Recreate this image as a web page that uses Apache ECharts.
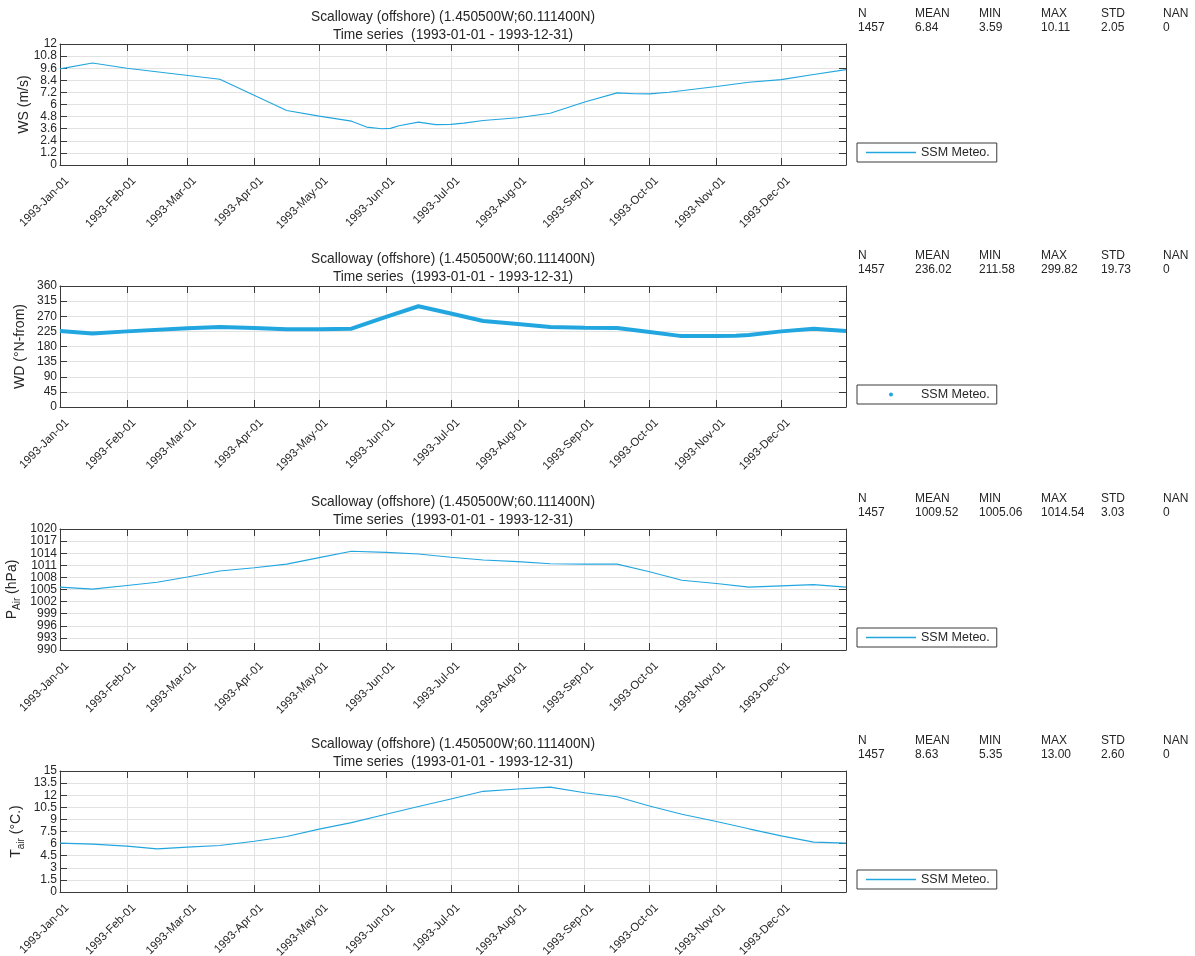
<!DOCTYPE html>
<html>
<head>
<meta charset="utf-8">
<script src="https://cdn.jsdelivr.net/npm/echarts@6/dist/echarts.min.js"></script>
<style>
  html, body { margin: 0; padding: 0; background: #ffffff; }
  #chart { width: 1195px; height: 956px; }
</style>
</head>
<body>
<div id="chart"></div>
<script>
// ---- text ----
const STATION = 'Scalloway (offshore) (1.450500W;60.111400N)';
const PERIOD = 'Time series  (1993-01-01 - 1993-12-31)';
const SERIES_NAME = 'SSM Meteo.';
const MONTHS = ['Jan', 'Feb', 'Mar', 'Apr', 'May', 'Jun', 'Jul', 'Aug', 'Sep', 'Oct', 'Nov', 'Dec'];
const STAT_HEADERS = ['N', 'MEAN', 'MIN', 'MAX', 'STD', 'NAN'];

// ---- wind speed (m/s) ----
const wsDates = ['1993-01-01', '1993-01-16', '1993-02-01', '1993-03-16', '1993-04-16', '1993-05-01',
  '1993-05-16', '1993-05-23', '1993-05-30', '1993-06-03', '1993-06-07', '1993-06-16', '1993-06-24',
  '1993-07-01', '1993-07-07', '1993-07-16', '1993-08-01', '1993-08-16', '1993-09-01', '1993-09-16',
  '1993-09-24', '1993-10-01', '1993-10-10', '1993-11-01', '1993-11-16', '1993-12-01', '1993-12-16',
  '1993-12-31'];
const wsValues = [9.53, 10.11, 9.6, 8.5, 5.4, 4.85, 4.35, 3.76, 3.59, 3.63, 3.9, 4.25, 4.0,
  4.03, 4.15, 4.42, 4.68, 5.14, 6.25, 7.15, 7.06, 7.05, 7.22, 7.78, 8.2, 8.47, 8.97, 9.46];

// ---- wind direction (deg, from N) ----
const wdDates = ['1993-01-01', '1993-01-16', '1993-02-01', '1993-03-01', '1993-03-16', '1993-04-01',
  '1993-04-16', '1993-05-01', '1993-05-16', '1993-06-01', '1993-06-16', '1993-07-01', '1993-07-16',
  '1993-08-01', '1993-08-16', '1993-09-01', '1993-09-16', '1993-10-01', '1993-10-15', '1993-11-01',
  '1993-11-10', '1993-11-16', '1993-12-01', '1993-12-16', '1993-12-31'];
const wdValues = [226, 219, 225, 234, 238, 235, 231, 231, 233, 268, 299.8, 278, 256,
  247, 238, 236, 235, 223, 211.6, 211.6, 212, 214, 225, 233, 226];

// ---- air pressure (hPa) ----
const paDates = ['1993-01-01', '1993-01-16', '1993-02-01', '1993-02-15', '1993-03-01', '1993-03-16',
  '1993-04-01', '1993-04-16', '1993-05-01', '1993-05-16', '1993-06-01', '1993-06-16', '1993-07-01',
  '1993-07-16', '1993-08-01', '1993-08-16', '1993-09-01', '1993-09-16', '1993-10-01', '1993-10-16',
  '1993-11-01', '1993-11-16', '1993-12-01', '1993-12-16', '1993-12-31'];
const paValues = [1005.6, 1005.1, 1006.0, 1006.8, 1008.1, 1009.6, 1010.4, 1011.3, 1012.9, 1014.5,
  1014.2, 1013.8, 1013.0, 1012.3, 1011.9, 1011.4, 1011.3, 1011.3, 1009.4, 1007.3, 1006.5, 1005.6,
  1005.9, 1006.2, 1005.6];

// ---- air temperature (deg C) ----
const taDates = ['1993-01-01', '1993-01-16', '1993-02-01', '1993-02-15', '1993-03-01', '1993-03-16',
  '1993-04-01', '1993-04-16', '1993-05-01', '1993-05-16', '1993-06-01', '1993-06-16', '1993-07-01',
  '1993-07-16', '1993-08-01', '1993-08-16', '1993-09-01', '1993-09-16', '1993-10-01', '1993-10-16',
  '1993-11-01', '1993-11-16', '1993-12-01', '1993-12-16', '1993-12-31'];
const taValues = [6.06, 5.93, 5.69, 5.35, 5.56, 5.77, 6.3, 6.88, 7.79, 8.6, 9.64, 10.6, 11.54,
  12.48, 12.77, 13.0, 12.3, 11.8, 10.67, 9.64, 8.74, 7.83, 6.96, 6.18, 6.06];

// ---- summary statistics ----
const wsStats = ['1457', '6.84', '3.59', '10.11', '2.05', '0'];
const wdStats = ['1457', '236.02', '211.58', '299.82', '19.73', '0'];
const paStats = ['1457', '1009.52', '1005.06', '1014.54', '3.03', '0'];
const taStats = ['1457', '8.63', '5.35', '13.00', '2.60', '0'];

// ---- y scales ----
const yMins = [0, 0, 990, 0];
const yMaxs = [12, 360, 1020, 15];
const ySteps = [1.2, 45, 3, 1.5];

const X_START = '1993-01-01';
const X_END = '1993-12-31';
const DAY = 86400000;

// ---- styling / layout ----
const FONT = "'Liberation Sans', Arial, Helvetica, sans-serif";
const INK = '#262626';
const AXIS = '#3a3a3a';
const GRID = '#e2e2e2';
const BLUE = '#22a6df';
const PLOT_LEFT = 60, PLOT_WIDTH = 786, PLOT_HEIGHT = 121;
const PLOT_TOPS = [44, 286, 529, 771];
const STAT_COLS = [858, 915, 979, 1041, 1101, 1163];

const panels = [
  { dates: wsDates, values: wsValues, stats: wsStats, width: 1.1, dot: false,
    name: 'WS (m/s)', rich: false, nameGap: 29 },
  { dates: wdDates, values: wdValues, stats: wdStats, width: 4, dot: true,
    name: 'WD (°N-from)', rich: false, nameGap: 33 },
  { dates: paDates, values: paValues, stats: paStats, width: 1.1, dot: false,
    name: '{m|P}{s|Air}{m| (hPa)}', rich: true, nameGap: 38 },
  { dates: taDates, values: taValues, stats: taStats, width: 1.1, dot: false,
    name: '{m|T}{s|air}{m| (°C.)}', rich: true, nameGap: 34 }
];

function fmtDate(v) {
  const d = new Date(v);
  return d.getFullYear() + '-' + MONTHS[d.getMonth()] + '-' + String(d.getDate()).padStart(2, '0');
}

const grids = [], xAxes = [], yAxes = [], series = [], titles = [], legends = [], graphics = [];

panels.forEach((p, i) => {
  const top = PLOT_TOPS[i];
  const shift = top - PLOT_TOPS[0];
  grids.push({ left: PLOT_LEFT, top: top, width: PLOT_WIDTH, height: PLOT_HEIGHT, show: false,
    containLabel: false, outerBoundsMode: 'none' });

  const xBase = {
    type: 'time', gridIndex: i, min: X_START, max: X_END,
    splitNumber: 12, minInterval: 28 * DAY, maxInterval: 31 * DAY
  };
  xAxes.push(Object.assign({}, xBase, {
    position: 'bottom',
    axisLine: { show: true, onZero: false, lineStyle: { color: AXIS, width: 1 } },
    axisTick: { show: true, inside: true, length: 7, lineStyle: { color: AXIS } },
    axisLabel: { show: true, rotate: 45, formatter: fmtDate, fontSize: 11.5, color: INK,
      fontFamily: FONT, margin: 7, verticalAlign: 'top', padding: [4, 0, 0, 0],
      showMaxLabel: false, hideOverlap: false },
    splitLine: { show: true, lineStyle: { color: GRID, width: 1 } }
  }));
  xAxes.push(Object.assign({}, xBase, {
    position: 'top',
    axisLine: { show: true, onZero: false, lineStyle: { color: AXIS, width: 1 } },
    axisTick: { show: true, inside: true, length: 7, lineStyle: { color: AXIS } },
    axisLabel: { show: false },
    splitLine: { show: false }
  }));

  const yBase = { type: 'value', gridIndex: i, min: yMins[i], max: yMaxs[i], interval: ySteps[i] };
  const nameStyle = { fontSize: 14, color: INK, fontFamily: FONT };
  if (p.rich) {
    nameStyle.rich = {
      m: { fontSize: 14, color: INK, fontFamily: FONT },
      s: { fontSize: 10, color: INK, fontFamily: FONT, padding: [9, 0, 0, 0] }
    };
  }
  yAxes.push(Object.assign({}, yBase, {
    position: 'left',
    name: p.name, nameLocation: 'middle', nameGap: p.nameGap, nameMoveOverlap: false,
    nameTextStyle: nameStyle,
    axisLine: { show: true, onZero: false, lineStyle: { color: AXIS, width: 1 } },
    axisTick: { show: true, inside: true, length: 7, lineStyle: { color: AXIS } },
    axisLabel: { show: true, fontSize: 12, color: INK, fontFamily: FONT, margin: 3,
      showMinLabel: true, showMaxLabel: true, hideOverlap: false,
      formatter: v => String(+v.toFixed(2)) },
    splitLine: { show: true, lineStyle: { color: GRID, width: 1 } }
  }));
  yAxes.push(Object.assign({}, yBase, {
    position: 'right',
    axisLine: { show: true, onZero: false, lineStyle: { color: AXIS, width: 1 } },
    axisTick: { show: true, inside: true, length: 7, lineStyle: { color: AXIS } },
    axisLabel: { show: false },
    splitLine: { show: false }
  }));

  series.push({
    type: 'line', name: SERIES_NAME,
    xAxisIndex: 2 * i, yAxisIndex: 2 * i,
    data: p.dates.map((d, k) => [d, p.values[k]]),
    symbol: 'none', showSymbol: false, smooth: false, silent: true,
    lineStyle: { color: BLUE, width: p.width },
    itemStyle: { color: BLUE }
  });

  titles.push({
    text: STATION + '\n' + PERIOD,
    left: PLOT_LEFT + PLOT_WIDTH / 2, top: 8 + shift, textAlign: 'center', padding: 0,
    textStyle: { fontSize: 13.75, fontWeight: 'normal', color: INK, fontFamily: FONT, lineHeight: 18 }
  });

  // legend box: a short line sample, or a single dot for the scatter-style panel
  const legendBase = {
    show: true, left: 857, top: 143 + shift, orient: 'horizontal', selectedMode: false,
    itemGap: 0, borderColor: AXIS, borderWidth: 1, borderRadius: 0,
    backgroundColor: '#ffffff'
  };
  if (p.dot) {
    legends.push(Object.assign(legendBase, {
      data: [{ name: SERIES_NAME, icon: 'circle', itemStyle: { color: BLUE } }],
      itemWidth: 4, itemHeight: 4, padding: [3, 7, 3, 32],
      textStyle: { fontSize: 12.5, color: INK, fontFamily: FONT, padding: [0, 0, 0, 23] }
    }));
  } else {
    legends.push(Object.assign(legendBase, {
      data: [{ name: SERIES_NAME, icon: 'rect', itemStyle: { color: BLUE, borderWidth: 0 } }],
      itemWidth: 50, itemHeight: 1.4, padding: [3, 7, 3, 9],
      textStyle: { fontSize: 12.5, color: INK, fontFamily: FONT }
    }));
  }

  STAT_HEADERS.forEach((h, j) => {
    graphics.push({ type: 'text', left: STAT_COLS[j], top: 8 + shift, silent: true,
      style: { text: h, fontSize: 12, fill: INK, fontFamily: FONT } });
    graphics.push({ type: 'text', left: STAT_COLS[j], top: 22 + shift, silent: true,
      style: { text: p.stats[j], fontSize: 12, fill: INK, fontFamily: FONT } });
  });
});

const chart = echarts.init(document.getElementById('chart'), null, { renderer: 'canvas' });
chart.setOption({
  backgroundColor: '#ffffff',
  animation: false,
  textStyle: { fontFamily: FONT },
  title: titles,
  legend: legends,
  grid: grids,
  xAxis: xAxes,
  yAxis: yAxes,
  series: series,
  graphic: graphics
});
</script>
</body>
</html>
